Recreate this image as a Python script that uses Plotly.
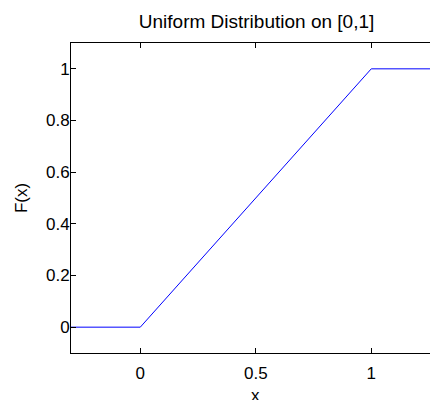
import plotly.graph_objects as go

x_vals = [-0.5, 0.0, 1.0, 1.5]
F_vals = [0.0, 0.0, 1.0, 1.0]
x_ticks = [0, 0.5, 1]
x_tick_labels = ["0", "0.5", "1"]
y_ticks = [0, 0.2, 0.4, 0.6, 0.8, 1]
y_tick_labels = ["0", "0.2", "0.4", "0.6", "0.8", "1"]

font = "Liberation Sans, Arial, Helvetica, sans-serif"

fig = go.Figure()
fig.add_trace(go.Scatter(x=x_vals, y=F_vals, mode="lines",
                         line=dict(color="rgb(0,0,255)", width=1),
                         showlegend=False, cliponaxis=True))

# page body has an 8px margin, so the figure is sized/offset to compensate
fig.update_layout(
    width=430, height=392,
    margin=dict(l=63, r=0, t=35, b=47, autoexpand=False),
    paper_bgcolor="white", plot_bgcolor="white",
    font=dict(family=font, size=17, color="black"),
    title=dict(text="Uniform Distribution on [0,1]", x=0.578, xanchor="center",
               y=1 - 13 / 392, yanchor="middle", font=dict(size=19, family=font, color="black")),
    annotations=[
        dict(text="x", xref="x", yref="paper", x=0.5, y=-0.138, xanchor="center",
             yanchor="middle", showarrow=False, font=dict(size=17, family=font)),
        dict(text="F(x)", xref="paper", yref="paper", x=-0.136, y=0.5, xanchor="center",
             yanchor="middle", textangle=-90, showarrow=False, font=dict(size=17, family=font)),
    ],
)
fig.update_xaxes(range=[-0.3, 1.289], tickvals=x_ticks, ticktext=x_tick_labels,
                 ticks="inside", ticklen=5, tickcolor="black", tickwidth=1,
                 showline=True, linecolor="black", linewidth=1, mirror="ticks",
                 showgrid=False, zeroline=False, automargin=False,
                 ticklabelstandoff=5, tickfont=dict(size=17, family=font))
fig.update_yaxes(range=[-0.1, 1.1], tickvals=y_ticks, ticktext=y_tick_labels,
                 ticks="inside", ticklen=5, tickcolor="black", tickwidth=1,
                 showline=True, linecolor="black", linewidth=1, mirror=False,
                 showgrid=False, zeroline=False, automargin=False,
                 ticklabelstandoff=-3, tickfont=dict(size=17, family=font))

fig.write_html("out.html")
